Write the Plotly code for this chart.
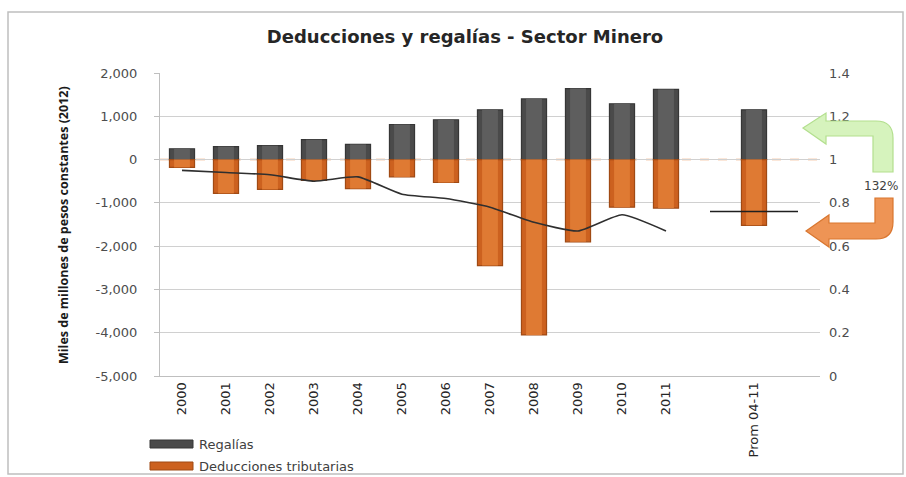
import plotly.graph_objects as go

# Categories (two blank slots give the gap and the tail of the average segment)
years = ["2000", "2001", "2002", "2003", "2004", "2005", "2006",
         "2007", "2008", "2009", "2010", "2011"]
prom_label = "Prom 04-11"
categories = years + [" ", prom_label, "  "]

# Miles de millones de pesos constantes (2012)
regalias = [250, 300, 320, 460, 350, 810, 920, 1150, 1400, 1640, 1290, 1620, 1150]
deducciones = [-180, -780, -690, -480, -670, -400, -530, -2450, -4050, -1900, -1100, -1120, -1520]
bar_x = years + [prom_label]

# Ratio on the secondary axis
ratio = [0.95, 0.94, 0.93, 0.90, 0.92, 0.84, 0.82, 0.78, 0.71, 0.67, 0.745, 0.67]
ratio_prom = 0.76
prom_x = [" ", prom_label, "  "]

y_ticks = [2000, 1000, 0, -1000, -2000, -3000, -4000, -5000]
y_ticktext = ["2,000", "1,000", "0", "-1,000", "-2,000", "-3,000", "-4,000", "-5,000"]
y2_ticks = [1.4, 1.2, 1.0, 0.8, 0.6, 0.4, 0.2, 0.0]
y2_ticktext = ["1.4", "1.2", "1", "0.8", "0.6", "0.4", "0.2", "0"]

W, H = 906, 477
L, R, T, B = 160, 86, 73, 101
PW, PH = W - L - R, H - T - B


def px(x):
    return (x - L) / PW


def py(y):
    return (H - B - y) / PH


GRAY = "#4a4a4a"
GRAY_LIGHT = "#5e5e5e"
GRAY_EDGE = "#363636"
ORANGE = "#cc611f"
ORANGE_LIGHT = "#df7a33"
ORANGE_EDGE = "#a04a14"

fig = go.Figure()
fig.add_trace(go.Bar(
    x=bar_x, y=regalias, name="Regalías", width=0.57,
    marker=dict(color=GRAY, line=dict(color=GRAY_EDGE, width=1.2)),
))
fig.add_trace(go.Bar(
    x=bar_x, y=deducciones, name="Deducciones tributarias", width=0.57,
    marker=dict(color=ORANGE, line=dict(color=ORANGE_EDGE, width=1.2)),
))
# lighter core stripe for a rounded, cylinder-like shading
fig.add_trace(go.Bar(
    x=bar_x, y=regalias, width=0.36, showlegend=False, hoverinfo="skip",
    marker=dict(color=GRAY_LIGHT, line=dict(width=0)),
))
fig.add_trace(go.Bar(
    x=bar_x, y=deducciones, width=0.36, showlegend=False, hoverinfo="skip",
    marker=dict(color=ORANGE_LIGHT, line=dict(width=0)),
))
fig.add_trace(go.Scatter(
    x=years, y=ratio, yaxis="y2", mode="lines", showlegend=False,
    line=dict(color="#2f2f2f", width=1.6, shape="spline", smoothing=0.5),
))
fig.add_trace(go.Scatter(
    x=prom_x, y=[ratio_prom] * 3, yaxis="y2", mode="lines", showlegend=False,
    line=dict(color="#1f1f1f", width=1.6),
))

shapes = []
# reference line at ratio = 1
shapes.append(dict(type="line", xref="paper", yref="y2", x0=0, x1=1, y0=1, y1=1,
                   line=dict(color="#f0a06a", width=1.5, dash="dash"), layer="below"))
# outer chart frame
shapes.append(dict(type="rect", xref="paper", yref="paper",
                   x0=px(8), x1=px(903), y0=py(474), y1=py(12),
                   line=dict(color="#bfbfbf", width=1.5)))


def path(points):
    parts = []
    for i, p in enumerate(points):
        if p[0] == "Q":
            parts.append(f"Q {px(p[1]):.4f},{py(p[2]):.4f} {px(p[3]):.4f},{py(p[4]):.4f}")
        else:
            parts.append(("M " if i == 0 else "L ") + f"{px(p[0]):.4f},{py(p[1]):.4f}")
    return " ".join(parts) + " Z"


green_arrow = [(803, 128), (826, 113), (826, 121), (876, 121), ("Q", 893, 121, 893, 138),
               (893, 172), (873, 172), (873, 136), (826, 136), (826, 144)]
orange_arrow = [(875, 198), (893, 198), (893, 222), ("Q", 893, 239, 876, 239),
                (829, 239), (829, 247), (806, 231), (829, 215), (829, 223), (875, 223)]
shapes.append(dict(type="path", xref="paper", yref="paper", path=path(green_arrow),
                   fillcolor="#d6f3bd", line=dict(color="#b3df8e", width=1.2)))
shapes.append(dict(type="path", xref="paper", yref="paper", path=path(orange_arrow),
                   fillcolor="#ee9455", line=dict(color="#d9762f", width=1.2)))

# legend swatches
shapes.append(dict(type="rect", xref="paper", yref="paper",
                   x0=px(150), x1=px(193), y0=py(448), y1=py(440),
                   fillcolor=GRAY, line=dict(color=GRAY_EDGE, width=1)))
shapes.append(dict(type="rect", xref="paper", yref="paper",
                   x0=px(150), x1=px(193), y0=py(470), y1=py(462),
                   fillcolor=ORANGE, line=dict(color=ORANGE_EDGE, width=1)))

TXT = "#404040"
annotations = [
    dict(text="132%", x=px(881), y=py(186), xref="paper", yref="paper", showarrow=False,
         xanchor="center", yanchor="middle",
         font=dict(family="DejaVu Sans", size=12, color=TXT)),
    dict(text="Regalías", x=px(197), y=py(444), xref="paper", yref="paper", showarrow=False,
         xanchor="left", yanchor="middle",
         font=dict(family="DejaVu Sans", size=13, color=TXT)),
    dict(text="Deducciones tributarias", x=px(197), y=py(466), xref="paper", yref="paper",
         showarrow=False, xanchor="left", yanchor="middle",
         font=dict(family="DejaVu Sans", size=13, color=TXT)),
    dict(text="<b>Miles de millones de pesos constantes (2012)</b>", x=px(63), y=py(225),
         xref="paper", yref="paper", showarrow=False, textangle=-90,
         xanchor="center", yanchor="middle",
         font=dict(family="Open Sans", size=12.5, color="#1a1a1a")),
]

fig.update_layout(
    width=W, height=H,
    margin=dict(l=L, r=R, t=T, b=B),
    paper_bgcolor="white", plot_bgcolor="white",
    barmode="overlay",
    showlegend=False,
    title=dict(text="<b>Deducciones y regalías - Sector Minero</b>",
               x=465 / W, xanchor="center", y=1 - 37 / H, yanchor="middle",
               font=dict(family="DejaVu Sans", size=18, color="#262626")),
    xaxis=dict(type="category", categoryorder="array", categoryarray=categories,
               range=[-0.5, len(categories) - 0.5], tickangle=-90,
               tickfont=dict(family="DejaVu Sans", size=13, color="#262626"),
               showgrid=False, showline=True, linecolor="#bfbfbf", linewidth=1,
               ticks=""),
    yaxis=dict(range=[-5000, 2000], tickvals=y_ticks, ticktext=y_ticktext,
               tickfont=dict(family="DejaVu Sans", size=13, color="#4d4d4d"),
               showgrid=True, gridcolor="#d0d0d0", gridwidth=1,
               showline=True, linecolor="#bfbfbf", linewidth=1,
               ticks="outside", ticklen=5, tickcolor="#bfbfbf", zeroline=False,
               ticklabelstandoff=14),
    yaxis2=dict(range=[0, 1.4], overlaying="y", side="right",
                tickvals=y2_ticks, ticktext=y2_ticktext,
                tickfont=dict(family="DejaVu Sans", size=13, color="#4d4d4d"),
                showgrid=False, showline=False, zeroline=False, ticks="",
                ticklabelstandoff=8),
    shapes=shapes,
    annotations=annotations,
)

fig.write_html("out.html")
